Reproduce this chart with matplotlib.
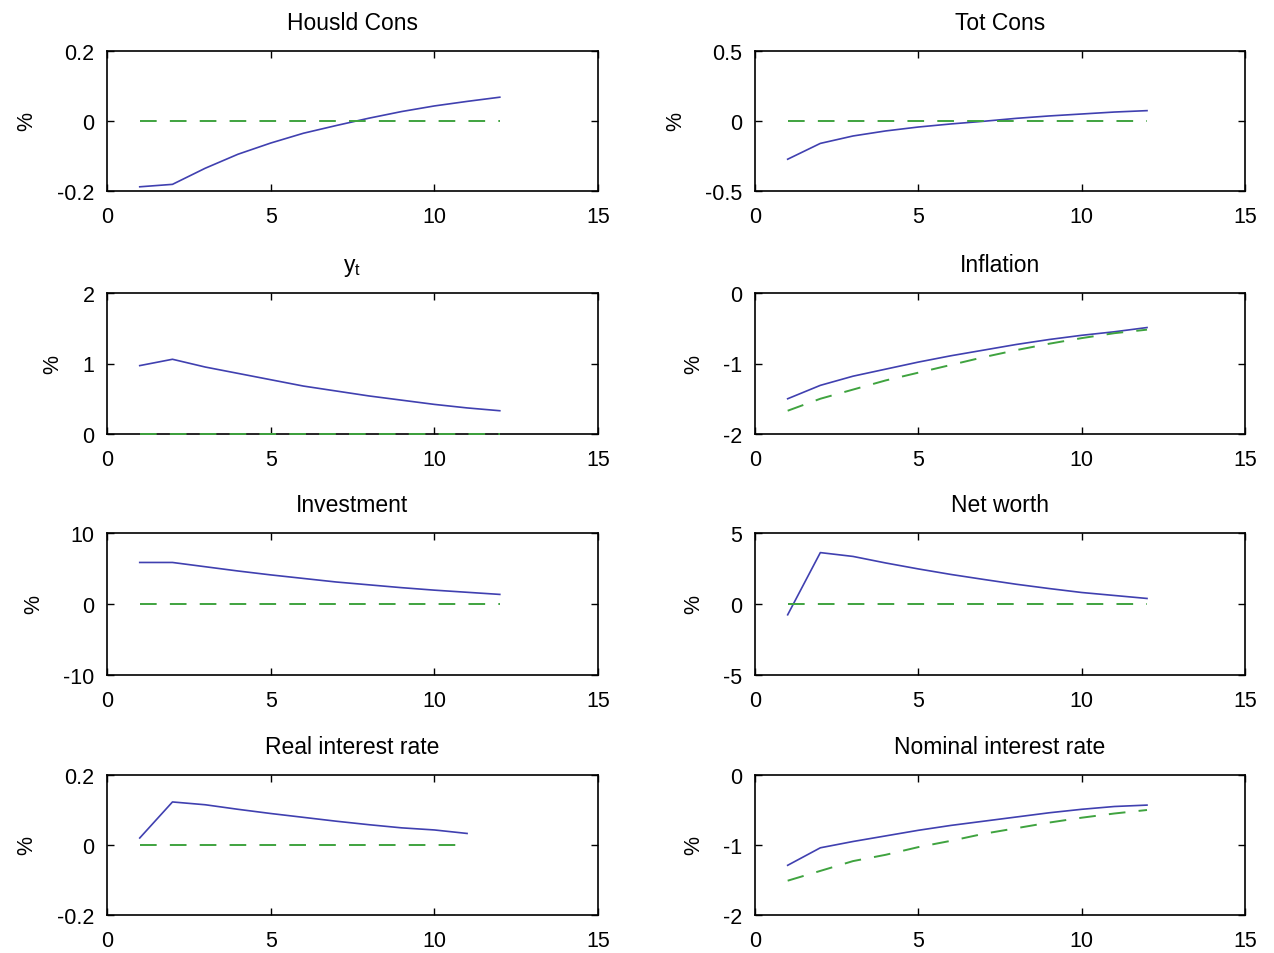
import matplotlib

matplotlib.use("Agg")
import matplotlib.pyplot as plt
from matplotlib.ticker import FormatStrFormatter

plt.rcParams.update({
    "font.family": ["Liberation Sans", "DejaVu Sans"],
    "font.size": 15,
    "axes.unicode_minus": False,
    "lines.scale_dashes": False,
})

# impulse responses, periods 1..12 (real rate only 1..11)
periods = list(range(1, 13))
periods_short = list(range(1, 12))

housld_cons = [-0.188, -0.181, -0.135, -0.095, -0.063, -0.035, -0.013, 0.008, 0.027, 0.043, 0.056, 0.068]
housld_cons_ref = [0.0] * 12

tot_cons = [-0.273, -0.160, -0.107, -0.071, -0.043, -0.021, -0.002, 0.019, 0.036, 0.050, 0.064, 0.074]
tot_cons_ref = [0.0] * 12

output_y = [0.97, 1.06, 0.95, 0.86, 0.77, 0.68, 0.61, 0.54, 0.48, 0.42, 0.37, 0.33]
output_y_ref = [0.0] * 12

inflation = [-1.50, -1.31, -1.18, -1.08, -0.98, -0.89, -0.81, -0.73, -0.66, -0.60, -0.55, -0.49]
inflation_ref = [-1.67, -1.50, -1.37, -1.24, -1.13, -1.02, -0.91, -0.81, -0.72, -0.64, -0.57, -0.52]

investment = [5.85, 5.85, 5.25, 4.65, 4.10, 3.60, 3.10, 2.70, 2.30, 1.95, 1.65, 1.35]
investment_ref = [0.0] * 12

net_worth = [-0.76, 3.62, 3.35, 2.89, 2.47, 2.08, 1.73, 1.39, 1.09, 0.81, 0.60, 0.39]
net_worth_ref = [0.0] * 12

real_rate = [0.020, 0.123, 0.115, 0.102, 0.090, 0.079, 0.068, 0.058, 0.049, 0.043, 0.033]
real_rate_ref = [0.0] * 11

nominal_rate = [-1.29, -1.04, -0.95, -0.87, -0.79, -0.72, -0.66, -0.60, -0.54, -0.49, -0.45, -0.43]
nominal_rate_ref = [-1.51, -1.37, -1.23, -1.14, -1.03, -0.94, -0.84, -0.76, -0.68, -0.61, -0.55, -0.50]

panels = [
    ("Housld Cons", periods, housld_cons, housld_cons_ref, (-0.2, 0.2), [-0.2, 0, 0.2]),
    ("Tot Cons", periods, tot_cons, tot_cons_ref, (-0.5, 0.5), [-0.5, 0, 0.5]),
    (r"y$_\mathregular{t}$", periods, output_y, output_y_ref, (0, 2), [0, 1, 2]),
    ("Inflation", periods, inflation, inflation_ref, (-2, 0), [-2, -1, 0]),
    ("Investment", periods, investment, investment_ref, (-10, 10), [-10, 0, 10]),
    ("Net worth", periods, net_worth, net_worth_ref, (-5, 5), [-5, 0, 5]),
    ("Real interest rate", periods_short, real_rate, real_rate_ref, (-0.2, 0.2), [-0.2, 0, 0.2]),
    ("Nominal interest rate", periods, nominal_rate, nominal_rate_ref, (-2, 0), [-2, -1, 0]),
]

W, H = 1274, 954
fig = plt.figure(figsize=(W / 100, H / 100), dpi=100)

col_x = [107, 755]
col_w = [491, 490]
row_top = [52, 294, 534, 776]
row_h = [140, 141, 142, 140]

for k, (title, x, y, yref, ylim, yticks) in enumerate(panels):
    r, c = divmod(k, 2)
    ax = fig.add_axes([col_x[c] / W, (H - row_top[r] - row_h[r]) / H,
                       col_w[c] / W, row_h[r] / H])
    ax.plot(x, y, color="#4040b0", lw=1.2)
    ax.plot(x, yref, color="#3fa33f", lw=1.4, dashes=(12, 9.5),
            clip_on=False, zorder=3)
    ax.set_xlim(0, 15)
    ax.set_ylim(*ylim)
    ax.set_xticks([0, 5, 10, 15])
    ax.set_yticks(yticks)
    ax.yaxis.set_major_formatter(FormatStrFormatter("%g"))
    ax.tick_params(direction="in", top=True, right=True, length=5,
                   width=1, labelsize=15.5)
    ax.tick_params(axis="x", pad=11)
    ax.tick_params(axis="y", pad=9)
    for s in ax.spines.values():
        s.set_linewidth(1.2)
    ax.set_ylabel("%", fontsize=15.5, labelpad=14)
    ax.set_title(title, fontsize=16.5, pad=16)

fig.savefig("out.png", dpi=100)
